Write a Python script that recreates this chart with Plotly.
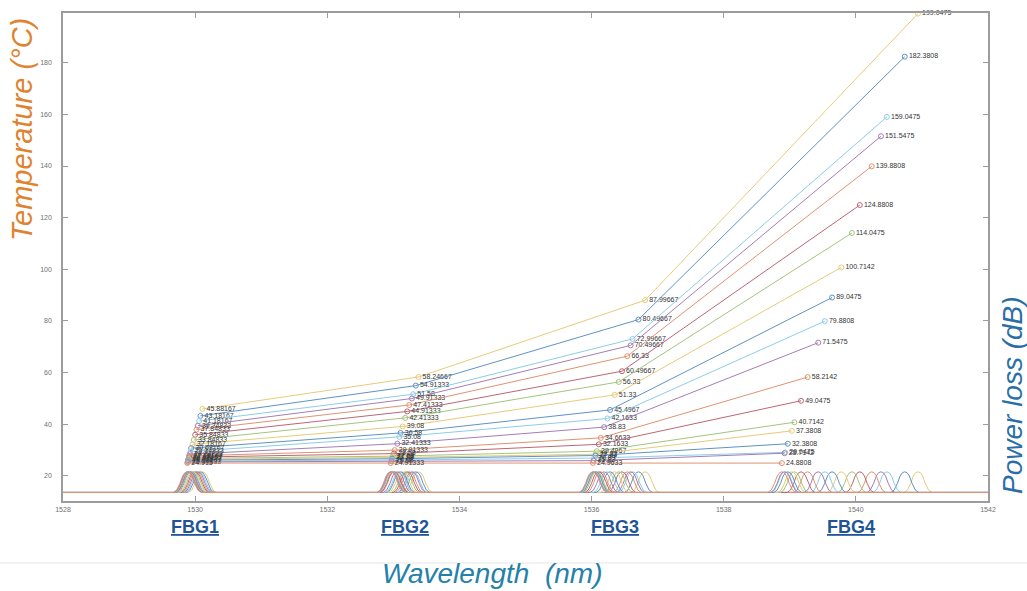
import plotly.graph_objects as go

# ---- data (series listed top-down) ----
temps_fbg1 = [45.88167, 43.18167, 41.18167, 39.34833, 37.84833, 35.84833, 33.84833, 32.18167, 30.68167,
              29.34833, 28.34833, 27.68167, 27.18167, 26.68167, 26.34833, 26.015, 25.68167, 25.34833, 24.915]
temps_fbg2 = [58.24667, 54.91333, 51.58, 49.91333, 47.41333, 44.91333, 42.41333, 39.08, 36.58,
              35.08, 32.41333, 29.91333, 28.58, 27.58, 27.08, 26.58, 26.08, 25.58, 24.91333]
temps_fbg3 = [87.99667, 80.49667, 72.99667, 70.49667, 66.33, 60.49667, 56.33, 51.33, 45.4967,
              42.1633, 38.83, 34.6633, 32.1633, 29.4967, 28.33, 27.83, 26.83, 25.83, 24.9633]
temps_fbg4 = [199.0475, 182.3808, 159.0475, 151.5475, 139.8808, 124.8808, 114.0475, 100.7142, 89.0475,
              79.8808, 71.5475, 58.2142, 49.0475, 40.7142, 37.3808, 32.3808, 29.0475, 28.7142, 24.8808]

wl_fbg1 = [1530.11, 1530.08, 1530.06, 1530.04, 1530.02, 1530.00, 1529.98, 1529.96, 1529.94,
           1529.93, 1529.92, 1529.91, 1529.91, 1529.90, 1529.90, 1529.89, 1529.89, 1529.89, 1529.88]
wl_fbg2 = [1533.38, 1533.34, 1533.30, 1533.28, 1533.24, 1533.21, 1533.18, 1533.14, 1533.11,
           1533.09, 1533.06, 1533.02, 1533.01, 1532.99, 1532.99, 1532.98, 1532.98, 1532.97, 1532.96]
wl_fbg3 = [1536.81, 1536.71, 1536.62, 1536.59, 1536.54, 1536.46, 1536.41, 1536.35, 1536.28,
           1536.24, 1536.19, 1536.14, 1536.11, 1536.08, 1536.06, 1536.06, 1536.04, 1536.03, 1536.02]
wl_fbg4 = [1540.94, 1540.74, 1540.47, 1540.38, 1540.24, 1540.06, 1539.94, 1539.78, 1539.64,
           1539.53, 1539.43, 1539.27, 1539.17, 1539.07, 1539.03, 1538.97, 1538.93, 1538.92, 1538.88]

# reflection-peak template (offset in nm, relative height)
peak_offsets = [-0.21, -0.16, -0.11, -0.07, -0.035, 0.0, 0.035, 0.07, 0.11, 0.16, 0.21]
peak_levels = [0.0, 0.12, 0.45, 0.8, 0.96, 1.0, 0.96, 0.8, 0.45, 0.12, 0.0]
spec_baseline = 13.5
spec_height = 8.0
wl_range = [1528, 1542]

palette = ["#E6CB7A", "#5F93C4", "#8CCDEA", "#A57EB3", "#DF9372", "#BC6676", "#A4C47E"]

x_ticks = [1528, 1530, 1532, 1534, 1536, 1538, 1540, 1542]
y_ticks = [20, 40, 60, 80, 100, 120, 140, 160, 180]
fbg_labels = ["FBG1", "FBG2", "FBG3", "FBG4"]
fbg_label_x = [1530.0, 1533.18, 1536.35, 1539.93]

fig = go.Figure()
n = len(temps_fbg4)

# spectra (the lowest series ends up drawn on top, as in the reference)
for i in range(n):
    col = palette[i % len(palette)]
    xs = [wl_range[0]]
    ys = [spec_baseline]
    for c in sorted([wl_fbg1[i], wl_fbg2[i], wl_fbg3[i], wl_fbg4[i]]):
        for o, l in zip(peak_offsets, peak_levels):
            xs.append(c + o)
            ys.append(spec_baseline + spec_height * l)
    xs.append(wl_range[1])
    ys.append(spec_baseline)
    fig.add_trace(go.Scatter(x=xs, y=ys, mode="lines", line=dict(color=col, width=1),
                             hoverinfo="skip", showlegend=False))

# temperature lines with markers and labels
for i in range(n):
    col = palette[i % len(palette)]
    xs = [wl_fbg1[i], wl_fbg2[i], wl_fbg3[i], wl_fbg4[i]]
    ys = [temps_fbg1[i], temps_fbg2[i], temps_fbg3[i], temps_fbg4[i]]
    fig.add_trace(go.Scatter(
        x=xs, y=ys, mode="lines+markers+text",
        line=dict(color=col, width=1),
        marker=dict(symbol="circle-open", size=5, color=col, line=dict(width=1, color=col)),
        text=[str(v) for v in ys], textposition="middle right",
        textfont=dict(size=7, color="#333333", family="Liberation Sans"),
        cliponaxis=False, showlegend=False))

axis_common = dict(showline=True, linecolor="#9c9c9c", linewidth=1.5, mirror="ticks",
                   ticks="inside", ticklen=5, tickcolor="#9c9c9c", tickwidth=1,
                   showgrid=False, zeroline=False,
                   tickfont=dict(size=7, color="#707070", family="Liberation Sans"))

fig.update_layout(
    width=1027, height=591,
    margin=dict(l=63, r=39, t=13, b=90),
    paper_bgcolor="white", plot_bgcolor="white",
    xaxis=dict(range=wl_range, tickvals=x_ticks, ticklabelstandoff=1, **axis_common),
    yaxis=dict(range=[10.2, 199.3], tickvals=y_ticks, ticklabelstandoff=8, **axis_common),
    font=dict(family="Liberation Sans"),
)

def px_x(p):
    return (p - 63) / 925.0

def px_y(p):
    return (501 - p) / 488.0

ann = [
    dict(text="<i>Temperature (°C)</i>", x=px_x(22), y=px_y(130), textangle=-90,
         font=dict(size=29, color="#E0832F")),
    dict(text="<i>Power loss (dB)</i>", x=px_x(1012), y=px_y(395), textangle=-90,
         font=dict(size=28, color="#2A6EA8")),
    dict(text="<i>Wavelength  (nm)</i>", x=px_x(492), y=px_y(573),
         font=dict(size=28, color="#2581A8")),
]
for lab, lx in zip(fbg_labels, fbg_label_x):
    ann.append(dict(text="<b><u>" + lab + "</u></b>", x=lx, xref="x", y=px_y(527),
                    font=dict(size=18, color="#1F5597")))
for a in ann:
    a.setdefault("xref", "paper")
    a["yref"] = "paper"
    a["showarrow"] = False
    a["xanchor"] = "center"
    a["yanchor"] = "middle"
fig.update_layout(annotations=ann)

fig.add_shape(type="line", xref="paper", yref="paper", x0=px_x(0), x1=px_x(1027),
              y0=px_y(563), y1=px_y(563), line=dict(color="#e6e6e6", width=1))

fig.write_html("out.html")
